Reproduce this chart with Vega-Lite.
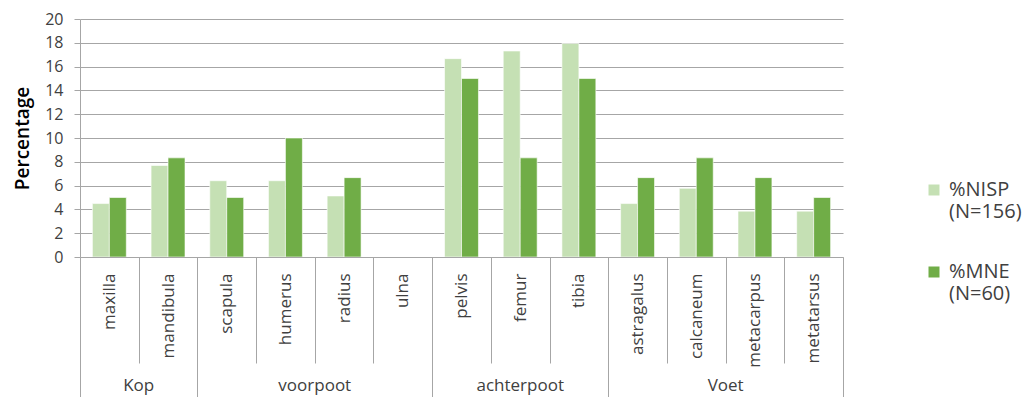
{
  "$schema": "https://vega.github.io/schema/vega-lite/v6.json",
  "width": 763,
  "height": 238,
  "autosize": {"type": "none"},
  "padding": {"left": 80, "top": 19, "right": 182, "bottom": 140},
  "config": {"font": "Open Sans", "view": {"stroke": null}},
  "data": {
    "values": [
      {"bone": "maxilla", "group": "Kop", "series": "%NISP (N=156)", "value": 4.49},
      {"bone": "maxilla", "group": "Kop", "series": "%MNE (N=60)", "value": 5.0},
      {"bone": "mandibula", "group": "Kop", "series": "%NISP (N=156)", "value": 7.69},
      {"bone": "mandibula", "group": "Kop", "series": "%MNE (N=60)", "value": 8.33},
      {"bone": "scapula", "group": "voorpoot", "series": "%NISP (N=156)", "value": 6.41},
      {"bone": "scapula", "group": "voorpoot", "series": "%MNE (N=60)", "value": 5.0},
      {"bone": "humerus", "group": "voorpoot", "series": "%NISP (N=156)", "value": 6.41},
      {"bone": "humerus", "group": "voorpoot", "series": "%MNE (N=60)", "value": 10.0},
      {"bone": "radius", "group": "voorpoot", "series": "%NISP (N=156)", "value": 5.13},
      {"bone": "radius", "group": "voorpoot", "series": "%MNE (N=60)", "value": 6.67},
      {"bone": "ulna", "group": "voorpoot", "series": "%NISP (N=156)", "value": 0},
      {"bone": "ulna", "group": "voorpoot", "series": "%MNE (N=60)", "value": 0},
      {"bone": "pelvis", "group": "achterpoot", "series": "%NISP (N=156)", "value": 16.67},
      {"bone": "pelvis", "group": "achterpoot", "series": "%MNE (N=60)", "value": 15.0},
      {"bone": "femur", "group": "achterpoot", "series": "%NISP (N=156)", "value": 17.31},
      {"bone": "femur", "group": "achterpoot", "series": "%MNE (N=60)", "value": 8.33},
      {"bone": "tibia", "group": "achterpoot", "series": "%NISP (N=156)", "value": 17.95},
      {"bone": "tibia", "group": "achterpoot", "series": "%MNE (N=60)", "value": 15.0},
      {"bone": "astragalus", "group": "Voet", "series": "%NISP (N=156)", "value": 4.49},
      {"bone": "astragalus", "group": "Voet", "series": "%MNE (N=60)", "value": 6.67},
      {"bone": "calcaneum", "group": "Voet", "series": "%NISP (N=156)", "value": 5.77},
      {"bone": "calcaneum", "group": "Voet", "series": "%MNE (N=60)", "value": 8.33},
      {"bone": "metacarpus", "group": "Voet", "series": "%NISP (N=156)", "value": 3.85},
      {"bone": "metacarpus", "group": "Voet", "series": "%MNE (N=60)", "value": 6.67},
      {"bone": "metatarsus", "group": "Voet", "series": "%NISP (N=156)", "value": 3.85},
      {"bone": "metatarsus", "group": "Voet", "series": "%MNE (N=60)", "value": 5.0}
    ]
  },
  "encoding": {
    "y": {
      "field": "value",
      "type": "quantitative",
      "scale": {"domain": [0, 20]},
      "axis": {
        "title": "Percentage",
        "titleFontSize": 19,
        "titleFontWeight": 600,
        "titleColor": "#000000",
        "titlePadding": 12,
        "values": [0, 2, 4, 6, 8, 10, 12, 14, 16, 18, 20],
        "labelOverlap": false,
        "labelFontSize": 16,
        "labelColor": "#404040",
        "labelPadding": 11,
        "tickSize": 6,
        "tickColor": "#A6A6A6",
        "domainColor": "#A6A6A6",
        "gridColor": "#A6A6A6"
      }
    }
  },
  "layer": [
    {
      "mark": {"type": "bar", "stroke": "#ffffff", "strokeWidth": 1, "strokeOpacity": 0.6},
      "encoding": {
        "x": {
          "field": "bone",
          "type": "nominal",
          "sort": null,
          "scale": {"paddingInner": 0, "paddingOuter": 0},
          "axis": {
            "title": null,
            "orient": "bottom",
            "zindex": 1,
            "labelAngle": -90,
            "labelFontSize": 17,
            "labelColor": "#404040",
            "labelPadding": {
              "condition": {
                "test": "indexof(['mandibula','ulna','tibia','metatarsus'], datum.value) >= 0",
                "value": -124
              },
              "value": -90
            },
            "tickBand": "extent",
            "tickColor": "#A6A6A6",
            "tickSize": {
              "condition": {
                "test": "!datum.value || indexof(['mandibula','ulna','tibia','metatarsus'], datum.value) >= 0",
                "value": 140
              },
              "value": 106
            },
            "domainColor": "#A6A6A6",
            "grid": false
          }
        },
        "xOffset": {
          "field": "series",
          "sort": null,
          "scale": {"paddingInner": 0, "paddingOuter": 0.73}
        },
        "color": {
          "field": "series",
          "type": "nominal",
          "sort": null,
          "scale": {"range": ["#C5E0B4", "#70AD47"]},
          "legend": {
            "title": null,
            "orient": "none",
            "legendX": 844,
            "legendY": 161,
            "symbolType": "square",
            "symbolSize": 121,
            "symbolStrokeWidth": 0,
            "labelFontSize": 20,
            "labelColor": "#404040",
            "labelLimit": 0,
            "labelOffset": 5,
            "labelExpr": "split(datum.label, ' ')",
            "labelBaseline": "middle",
            "rowPadding": 40,
            "encode": {
              "labels": {"update": {"lineHeight": {"value": 24}}}
            }
          }
        }
      }
    },
    {
      "mark": {"type": "bar", "opacity": 0},
      "encoding": {
        "x": {
          "field": "bone",
          "type": "nominal",
          "sort": null,
          "axis": {
            "title": null,
            "orient": "bottom",
            "ticks": false,
            "domain": false,
            "grid": false,
            "labelAngle": 0,
            "labelAlign": "center",
            "labelBaseline": "middle",
            "labelFontSize": 17,
            "labelColor": "#404040",
            "labelPadding": 128,
            "labelOverlap": false,
            "labelExpr": "datum.value === 'maxilla' ? 'Kop' : datum.value === 'humerus' ? 'voorpoot' : datum.value === 'femur' ? 'achterpoot' : datum.value === 'calcaneum' ? 'Voet' : ''",
            "labelOffset": {
              "condition": {"test": "datum.value === 'femur'", "value": 0},
              "value": 29.35
            }
          }
        }
      }
    }
  ],
  "resolve": {"axis": {"x": "independent"}}
}
